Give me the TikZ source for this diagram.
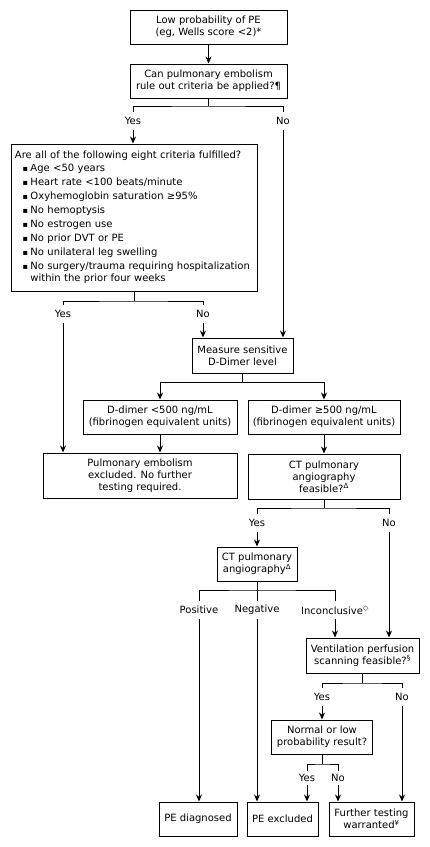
\documentclass[tikz,border=0pt]{standalone}
\usepackage{fontspec}
\setmainfont{DejaVu Sans}
\usepackage{tikz}
\usetikzlibrary{arrows.meta, positioning}

\newcommand{\critmark}{\hspace*{9pt}\makebox[4pt][r]{\raisebox{0.5pt}{\fontsize{8}{8}\selectfont ▪}}\hspace{2.5pt}}

\begin{document}
\begin{tikzpicture}[
        x=1pt, y=-1pt,
        every node/.style={font=\fontsize{10}{12}\selectfont},
        box/.style={draw, rectangle, line width=1pt, align=center, inner sep=2pt},
        crit/.style={box, align=left, inner sep=4pt},
        branch/.style={inner sep=0pt, minimum height=18pt},
        link/.style={line width=1pt},
        arrow/.style={link, -{Stealth[length=7pt, width=6pt]}}
    ]
    \useasboundingbox (0,0) rectangle (430,847);

    % Start
    \node (low) [box, minimum width=157pt, minimum height=34pt] at (208.5,27) {Low probability of PE\\(eg, Wells score <2)*};
    \node (rule) [box, minimum width=157pt, minimum height=34pt, below=19pt of low] {Can pulmonary embolism\\rule out criteria be applied?¶};
    \draw [arrow] (low) -- (rule);

    % Rule-out criteria applicable?
    \node (yes1) [branch] at (133,121) {Yes};
    \node (no1) [branch] at (283,121) {No};
    \draw [link] (rule.south) -- (rule.south |- 0,106) coordinate (bar1);
    \draw [link] (yes1.north) |- (bar1) -| (no1.north);

    \node (criteria) [crit, text width=238pt, minimum height=147pt] at (134,217.5) {Are all of the following eight criteria fulfilled?\\[1pt]
        \critmark Age <50 years\\[2pt]
        \critmark Heart rate <100 beats/minute\\[2pt]
        \critmark Oxyhemoglobin saturation ≥95\%\\[2pt]
        \critmark No hemoptysis\\[2pt]
        \critmark No estrogen use\\[2pt]
        \critmark No prior DVT or PE\\[2pt]
        \critmark No unilateral leg swelling\\[2pt]
        \critmark No surgery/trauma requiring hospitalization\\
        \hspace*{15.5pt}within the prior four weeks};
    \draw [arrow] (yes1.south) -- (yes1.south |- criteria.north);

    % Criteria fulfilled?
    \node (yes2) [branch] at (63,314) {Yes};
    \node (no2) [branch] at (203,314) {No};
    \draw [link] (criteria.south) -- (criteria.south |- 0,301) coordinate (bar2);
    \draw [link] (yes2.north) |- (bar2) -| (no2.north);

    \node (measure) [box, minimum width=101pt, minimum height=35pt] at (242.5,355.5) {Measure sensitive\\D-Dimer level};
    \draw [arrow] (no2.south) -- (no2.south |- measure.north);
    \draw [arrow] (no1.south) -- (no1.south |- measure.north);

    % D-dimer result
    \node (dlow) [box, minimum width=154pt, minimum height=34pt] at (160,417) {D-dimer <500 ng/mL\\(fibrinogen equivalent units)};
    \node (dhigh) [box, minimum width=152pt, minimum height=34pt, right=10pt of dlow] {D-dimer ≥500 ng/mL\\(fibrinogen equivalent units)};
    \draw [link] (measure.south) -- (measure.south |- 0,382) coordinate (bar3);
    \draw [arrow] (bar3) -| (dlow.north);
    \draw [arrow] (bar3) -| (dhigh.north);

    \node (excl) [box, minimum width=194pt, minimum height=45pt] at (140,475.5) {Pulmonary embolism\\excluded. No further\\testing required.};
    \node (ctfeas) [box, minimum width=152pt, minimum height=45pt, below=19pt of dhigh] {CT pulmonary\\angiography\\feasible?\textsuperscript{Δ}};
    \draw [arrow] (dlow.south) -- (dlow.south |- excl.north);
    \draw [arrow] (yes2.south) -- (yes2.south |- excl.north);
    \draw [arrow] (dhigh) -- (ctfeas);

    % CT feasible?
    \node (yes3) [branch] at (257,523) {Yes};
    \node (no3) [branch] at (389,523) {No};
    \draw [link] (ctfeas.south) -- (ctfeas.south |- 0,508) coordinate (bar4);
    \draw [link] (yes3.north) |- (bar4) -| (no3.north);

    \node (cta) [box, minimum width=80pt, minimum height=34pt] at (257,564) {CT pulmonary\\angiography\textsuperscript{Δ}};
    \draw [arrow] (yes3) -- (cta);

    % CT result
    \node (pos) [branch] at (199,610) {Positive};
    \node (neg) [branch] at (257,610) {Negative};
    \node (inc) [branch] at (335,610) {Inconclusive\textsuperscript{◇}};
    \draw [link] (cta.south) -- (cta.south |- 0,590) coordinate (bar5);
    \draw [link] (pos.north) |- (bar5) -| (inc.north);
    \draw [link] (bar5) -- (neg.north);

    \node (vq) [box, minimum width=113pt, minimum height=35pt] at (362.5,655.5) {Ventilation perfusion\\scanning feasible?\textsuperscript{§}};
    \draw [arrow] (inc.south) -- (inc.south |- vq.north);
    \draw [arrow] (no3.south) -- (no3.south |- vq.north);

    % V/Q feasible?
    \node (yes4) [branch] at (322,697) {Yes};
    \node (no4) [branch] at (402,697) {No};
    \draw [link] (vq.south) -- (vq.south |- 0,683) coordinate (bar6);
    \draw [link] (yes4.north) |- (bar6) -| (no4.north);

    \node (normal) [box, minimum width=101pt, minimum height=34pt] at (322,737) {Normal or low\\probability result?};
    \draw [arrow] (yes4.south) -- (yes4.south |- normal.north);

    \node (yes5) [branch, minimum height=14pt] at (307,778) {Yes};
    \node (no5) [branch, minimum height=14pt] at (338,778) {No};
    \draw [link] (normal.south) -- (normal.south |- 0,764) coordinate (bar7);
    \draw [link] (yes5.north) |- (bar7) -| (no5.north);

    % Outcomes
    \node (pediag) [box, minimum width=78pt, minimum height=34pt] at (198,819) {PE diagnosed};
    \node (peexcl) [box, minimum width=71pt, minimum height=34pt, right=9pt of pediag] {PE excluded};
    \node (further) [box, minimum width=85pt, minimum height=34pt, right=10pt of peexcl] {Further testing\\warranted\textsuperscript{¥}};

    \draw [arrow] (pos.south) -- (pos.south |- pediag.north);
    \draw [arrow] (neg.south) -- (neg.south |- peexcl.north);
    \draw [arrow] (yes5.south) -- (yes5.south |- peexcl.north);
    \draw [arrow] (no5.south) -- (no5.south |- further.north);
    \draw [arrow] (no4.south) -- (no4.south |- further.north);

\end{tikzpicture}
\end{document}
